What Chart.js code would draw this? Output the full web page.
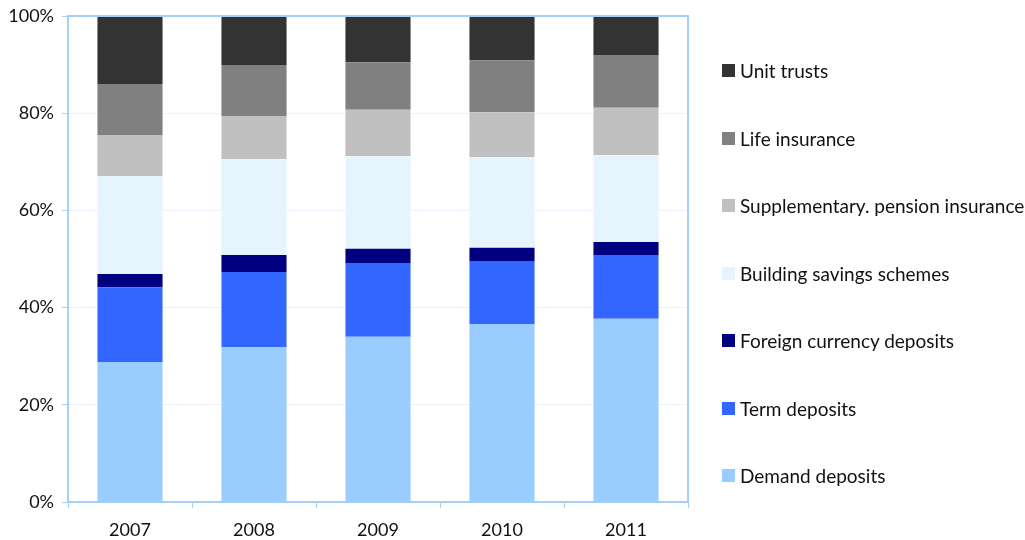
<!DOCTYPE html>
<html>
<head>
<meta charset="utf-8">
<script src="https://cdn.jsdelivr.net/npm/chart.js@4/dist/chart.umd.min.js"></script>
<style>
  html, body { margin: 0; padding: 0; background: #fff; }
  #wrap { position: relative; width: 1025px; height: 540px; overflow: hidden; }
  #legend { position: absolute; left: 722px; top: 37px; font-family: Lato, sans-serif; font-size: 19px; color: #111; }
  .item { display: flex; align-items: center; height: 67.5px; white-space: nowrap; }
  .box { width: 13px; height: 13px; margin-right: 5px; flex: none; }
</style>
</head>
<body>
<div id="wrap">
  <canvas id="chart" width="1025" height="540"></canvas>
  <div id="legend"></div>
</div>
<script>
// ===== DATA (share of total, %) =====
const years = ["2007", "2008", "2009", "2010", "2011"];
const demandDeposits   = [28.8, 31.9, 34.0, 36.6, 37.7];
const termDeposits     = [15.4, 15.4, 15.2, 13.0, 13.1];
const foreignDeposits  = [2.7, 3.5, 2.9, 2.7, 2.7];
const buildingSavings  = [20.2, 19.8, 19.1, 18.7, 17.9];
const pensionInsurance = [8.4, 8.8, 9.5, 9.2, 9.7];
const lifeInsurance    = [10.5, 10.5, 9.8, 10.7, 10.9];
const unitTrusts       = [14.0, 10.1, 9.5, 9.1, 8.0];
const yTicks = [0, 20, 40, 60, 80, 100];

const axisBlue = "#A6CFF5";
const font = { family: "Lato, sans-serif", size: 18 };

// Plot frame (top + right edges)
const frame = {
  id: "frame",
  afterDatasetsDraw(chart) {
    const { ctx, chartArea: a } = chart;
    ctx.save();
    ctx.strokeStyle = axisBlue;
    ctx.lineWidth = 2;
    ctx.beginPath();
    ctx.moveTo(a.left, a.top);
    ctx.lineTo(a.right, a.top);
    ctx.lineTo(a.right, a.bottom);
    ctx.stroke();
    ctx.restore();
  }
};

const ctx = document.getElementById("chart");

const chart = new Chart(ctx, {
  type: "bar",
  data: {
    labels: years,
    datasets: [
      { label: "Demand deposits", data: demandDeposits, backgroundColor: "#99CCFF" },
      { label: "Term deposits", data: termDeposits, backgroundColor: "#3366FF" },
      { label: "Foreign currency deposits", data: foreignDeposits, backgroundColor: "#000080" },
      { label: "Building savings schemes", data: buildingSavings, backgroundColor: "#E6F4FE" },
      { label: "Supplementary. pension insurance", data: pensionInsurance, backgroundColor: "#C0C0C0" },
      { label: "Life insurance", data: lifeInsurance, backgroundColor: "#808080" },
      { label: "Unit trusts", data: unitTrusts, backgroundColor: "#333333" },
    ],
  },
  options: {
    responsive: false,
    animation: false,
    events: [],
    layout: { padding: { left: 0, top: 16, right: 337, bottom: 0 } },
    datasets: { bar: { barPercentage: 0.525, categoryPercentage: 1, borderWidth: 0 } },
    plugins: { legend: { display: false }, tooltip: { enabled: false } },
    scales: {
      x: {
        stacked: true,
        afterFit: s => { s.height = 38; s.paddingLeft = 0; s.paddingRight = 0; },
        grid: { drawOnChartArea: false, color: axisBlue, tickLength: 6, lineWidth: 1 },
        border: { color: axisBlue, width: 2 },
        ticks: { color: "#111", font, padding: 11 },
      },
      y: {
        stacked: true,
        min: 0,
        max: 100,
        afterFit: s => { s.width = 68; s.paddingTop = 0; s.paddingBottom = 0; },
        afterBuildTicks: s => { s.ticks = yTicks.map(v => ({ value: v })); },
        grid: { color: "#EAF3FB", tickColor: axisBlue, tickLength: 6 },
        border: { color: axisBlue, width: 2 },
        ticks: { color: "#111", font, padding: 8, callback: v => v + "%" },
      },
    },
  },
  plugins: [frame],
});

// ===== HTML LEGEND (reverse order, top = last dataset) =====
const legend = document.getElementById("legend");
chart.data.datasets.slice().reverse().forEach(ds => {
  const row = document.createElement("div");
  row.className = "item";
  const box = document.createElement("span");
  box.className = "box";
  box.style.background = ds.backgroundColor;
  const txt = document.createElement("span");
  txt.textContent = ds.label;
  row.appendChild(box);
  row.appendChild(txt);
  legend.appendChild(row);
});
</script>
</body>
</html>
